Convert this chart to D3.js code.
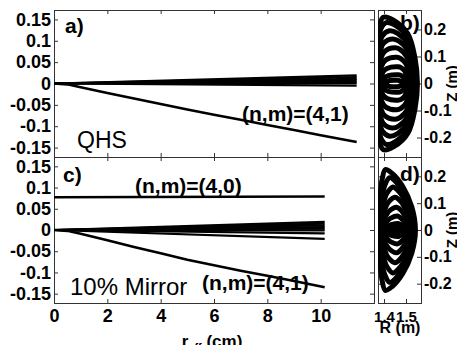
<!DOCTYPE html>
<html>
<head>
<meta charset="utf-8">
<script src="https://cdn.jsdelivr.net/npm/d3@7"></script>
<style>
  html, body { margin: 0; padding: 0; background: #fff; overflow: hidden; }
  svg { display: block; }
</style>
</head>
<body>
<svg id="chart" width="457" height="345"></svg>
<script>
// ---------------- data ----------------
const rTicks = [0, 2, 4, 6, 8, 10, 12];
const rTickLabels = ["0", "2", "4", "6", "8", "10", ""];
const zTicks = [-0.15, -0.1, -0.05, 0, 0.05, 0.1, 0.15];
const zTickLabels = ["-0.15", "-0.1", "-0.05", "0", "0.05", "0.1", "0.15"];
const fluxZTicks = [-0.2, -0.1, 0, 0.1, 0.2];
const fluxZLabels = ["-0.2", "-0.1", "0", "0.1", "0.2"];
const fluxRTicks = [1.4, 1.5];
const fluxRLabels = ["1.4", "1.5"];

// a) QHS
const qhsR41 = [0, 0.5, 1, 2, 3, 4, 5, 6, 7, 8, 9, 10, 11.35];
const qhsV41 = [0, -0.002, -0.009, -0.022, -0.035, -0.048, -0.061, -0.073, -0.085, -0.097, -0.109, -0.121, -0.137];
const qhsBundleEndR = 11.35;
const qhsBundleEnd = [0.019, 0.015, 0.011, 0.008, 0.004, 0.001, -0.005];

// c) 10% mirror
const mirR41 = [0, 0.5, 1, 2, 3, 4, 5, 6, 7, 8, 9, 10.15];
const mirV41 = [0, -0.002, -0.009, -0.024, -0.04, -0.055, -0.07, -0.083, -0.096, -0.108, -0.12, -0.135];
const mirR40 = [0, 10.15];
const mirV40 = [0.077, 0.079];
const mirBundleEndR = 10.15;
const mirBundleEnd = [0.019, 0.015, 0.011, 0.007, 0.003, -0.001, -0.008, -0.021];

// b) QHS flux surfaces (R of left side, top point, right side; half height in Z)
const qhsSurfLeft  = [1.375, 1.376, 1.378, 1.380, 1.383, 1.387, 1.392, 1.400, 1.412];
const qhsSurfApex  = [1.397, 1.410, 1.425, 1.438, 1.450, 1.458, 1.464, 1.466, 1.458];
const qhsSurfRight = [1.552, 1.546, 1.540, 1.533, 1.525, 1.516, 1.506, 1.495, 1.482];
const qhsSurfTop   = [0.245, 0.225, 0.195, 0.165, 0.132, 0.097, 0.062, 0.032, 0.012];

// d) mirror flux surfaces
const mirSurfLeft  = [1.375, 1.377, 1.380, 1.384, 1.389, 1.395, 1.403, 1.415];
const mirSurfApex  = [1.406, 1.425, 1.440, 1.450, 1.456, 1.460, 1.463, 1.465];
const mirSurfRight = [1.543, 1.537, 1.530, 1.522, 1.513, 1.503, 1.493, 1.483];
const mirSurfTop   = [0.225, 0.195, 0.160, 0.122, 0.085, 0.052, 0.024, 0.008];

// outline of one surface, upper half: [side, fraction, fraction of half height]
// side "L" runs left side -> top point, side "R" runs top point -> right side
const dShapeUpper = [["R", 1, 0], ["R", 0.93, 0.38], ["R", 0.72, 0.75], ["R", 0.32, 0.95], ["R", 0, 1],
                     ["L", 0.3, 0.9], ["L", 0.02, 0.65], ["L", 0, 0]];
const lensShapeUpper = [["R", 1, 0], ["R", 0.88, 0.38], ["R", 0.58, 0.72], ["R", 0.22, 0.94], ["R", 0, 1],
                        ["L", 0.55, 0.85], ["L", 0.38, 0.72], ["L", 0.1, 0.38], ["L", 0, 0]];

// ---------------- layout ----------------
const FONT = '"Liberation Sans", Arial, Helvetica, sans-serif';
const svg = d3.select("#chart");
svg.append("rect").attr("width", 457).attr("height", 345).attr("fill", "#fff");

const r  = d3.scaleLinear().domain([0, 12]).range([54, 374]);
const R  = d3.scaleLinear().domain([1.3727, 1.5682]).range([378, 421]);
const zA = d3.scaleLinear().domain([-0.172, 0.172]).range([157, 10]);
const zC = d3.scaleLinear().domain([-0.172, 0.172]).range([303, 157]);
const ZB = d3.scaleLinear().domain([-0.272, 0.272]).range([157, 10]);
const ZD = d3.scaleLinear().domain([-0.272, 0.272]).range([303, 157]);

function styleAxis(g, size) {
  g.attr("font-family", FONT).attr("font-size", size).attr("font-weight", "bold");
  g.select(".domain").remove();
  g.selectAll(".tick line").attr("stroke", "#333");
  g.selectAll(".tick text").attr("fill", "#000");
}
const noLabel = () => "";

function clipFor(id, xs, ys) {
  const [x0, x1] = xs.range(), [y1, y0] = ys.range();
  svg.append("clipPath").attr("id", id).append("rect")
    .attr("x", x0).attr("y", y0).attr("width", x1 - x0).attr("height", y1 - y0);
  return "url(#" + id + ")";
}

function frame(xs, ys) {
  const [x0, x1] = xs.range(), [y1, y0] = ys.range();
  svg.append("rect").attr("x", x0 + 0.5).attr("y", y0 + 0.5)
    .attr("width", x1 - x0).attr("height", y1 - y0)
    .attr("fill", "none").attr("stroke", "#333").attr("stroke-width", 1);
}

function seriesLine(g, xs, ys, rv, zv, w) {
  g.append("path").datum(d3.zip(rv, zv))
    .attr("d", d3.line().x(d => xs(d[0])).y(d => ys(d[1])))
    .attr("fill", "none").attr("stroke", "#000")
    .attr("stroke-width", w || 2.6).attr("stroke-linejoin", "round");
}

function surfaces(g, xs, ys, shape, left, apex, right, top) {
  left.forEach((L, i) => {
    const A = apex[i], Rr = right[i], h = top[i];
    const pos = ([side, u, w]) => [side === "L" ? L + u * (A - L) : A + u * (Rr - A), w * h];
    const upper = shape.map(pos);
    const lower = shape.slice(1, -1).reverse().map(p => { const q = pos(p); return [q[0], -q[1]]; });
    g.append("path").datum(upper.concat(lower))
      .attr("d", d3.line().x(d => xs(d[0])).y(d => ys(d[1])).curve(d3.curveCatmullRomClosed.alpha(0.5)))
      .attr("fill", "none").attr("stroke", "#000").attr("stroke-width", 5);
  });
}

function profilePanel(ys, id, showX) {
  frame(r, ys);
  const y0 = ys.range()[1], y1 = ys.range()[0];
  const left = svg.append("g").attr("transform", "translate(54,0)")
    .call(d3.axisLeft(ys).tickValues(zTicks).tickFormat(d => zTickLabels[zTicks.indexOf(d)])
      .tickSizeInner(-4).tickSizeOuter(0).tickPadding(3));
  styleAxis(left, 18);
  const right = svg.append("g").attr("transform", "translate(374,0)")
    .call(d3.axisRight(ys).tickValues(zTicks).tickFormat(noLabel).tickSizeInner(-4).tickSizeOuter(0));
  styleAxis(right, 18);
  const top = svg.append("g").attr("transform", "translate(0," + y0 + ")")
    .call(d3.axisTop(r).tickValues(rTicks).tickFormat(noLabel).tickSizeInner(-4).tickSizeOuter(0));
  styleAxis(top, 18);
  const bottom = svg.append("g").attr("transform", "translate(0," + y1 + ")")
    .call(d3.axisBottom(r).tickValues(rTicks)
      .tickFormat(showX ? (d => rTickLabels[rTicks.indexOf(d)]) : noLabel)
      .tickSizeInner(-4).tickSizeOuter(0).tickPadding(6));
  styleAxis(bottom, 18);
  return svg.append("g").attr("clip-path", clipFor(id, r, ys));
}

function surfacePanel(ys, id, showX) {
  frame(R, ys);
  const y0 = ys.range()[1], y1 = ys.range()[0];
  const right = svg.append("g").attr("transform", "translate(421,0)")
    .call(d3.axisRight(ys).tickValues(fluxZTicks).tickFormat(d => fluxZLabels[fluxZTicks.indexOf(d)])
      .tickSizeInner(-4).tickSizeOuter(0).tickPadding(3));
  styleAxis(right, 16);
  const left = svg.append("g").attr("transform", "translate(378,0)")
    .call(d3.axisLeft(ys).tickValues(fluxZTicks).tickFormat(noLabel).tickSizeInner(-4).tickSizeOuter(0));
  styleAxis(left, 16);
  const top = svg.append("g").attr("transform", "translate(0," + y0 + ")")
    .call(d3.axisTop(R).tickValues(fluxRTicks).tickFormat(noLabel).tickSizeInner(-4).tickSizeOuter(0));
  styleAxis(top, 16);
  const bottom = svg.append("g").attr("transform", "translate(0," + y1 + ")")
    .call(d3.axisBottom(R).tickValues(fluxRTicks)
      .tickFormat(showX ? (d => fluxRLabels[fluxRTicks.indexOf(d)]) : noLabel)
      .tickSizeInner(-4).tickSizeOuter(0).tickPadding(8));
  styleAxis(bottom, 15);
  return svg.append("g").attr("clip-path", clipFor(id, R, ys));
}

// ---------------- a) ----------------
const gA = profilePanel(zA, "clipA", false);
qhsBundleEnd.forEach(v => seriesLine(gA, r, zA, [0, qhsBundleEndR], [0, v], 2.2));
seriesLine(gA, r, zA, qhsR41, qhsV41);

// ---------------- c) ----------------
const gC = profilePanel(zC, "clipC", true);
mirBundleEnd.forEach(v => seriesLine(gC, r, zC, [0, mirBundleEndR], [0, v], 2.2));
seriesLine(gC, r, zC, mirR40, mirV40);
seriesLine(gC, r, zC, mirR41, mirV41);

// ---------------- b) and d) ----------------
const gB = surfacePanel(ZB, "clipB", false);
surfaces(gB, R, ZB, dShapeUpper, qhsSurfLeft, qhsSurfApex, qhsSurfRight, qhsSurfTop);
const gD = surfacePanel(ZD, "clipD", true);
surfaces(gD, R, ZD, lensShapeUpper, mirSurfLeft, mirSurfApex, mirSurfRight, mirSurfTop);

// ---------------- text ----------------
function label(x, y, txt, size, weight) {
  return svg.append("text").attr("x", x).attr("y", y).text(txt)
    .attr("font-family", FONT).attr("font-size", size).attr("font-weight", weight).attr("fill", "#000");
}
label(65, 33, "a)", 21, "bold");
label(63, 182, "c)", 21, "bold");
label(400, 30, "b)", 21, "bold");
label(400, 181, "d)", 21, "bold");
label(77, 148, "QHS", 23, "normal");
label(70, 295, "10% Mirror", 24, "normal");
label(242, 121, "(n,m)=(4,1)", 21, "bold");
label(135, 193, "(n,m)=(4,0)", 21, "bold");
label(202, 290, "(n,m)=(4,1)", 21, "bold");

label(400, 333, "R (m)", 16, "bold").attr("text-anchor", "middle");
[83.5, 230].forEach(cy => {
  svg.append("text").attr("transform", "translate(457," + cy + ") rotate(-90)")
    .attr("text-anchor", "middle").attr("font-family", FONT).attr("font-size", 15)
    .attr("font-weight", "bold").text("Z (m)");
});

const xl = svg.append("text").attr("x", 212).attr("y", 347).attr("text-anchor", "middle")
  .attr("font-family", FONT).attr("font-size", 17).attr("font-weight", "bold");
xl.append("tspan").text("r");
xl.append("tspan").attr("font-size", 11).attr("dy", 4).text("eff");
xl.append("tspan").attr("dy", -4).text(" (cm)");
</script>
</body>
</html>
